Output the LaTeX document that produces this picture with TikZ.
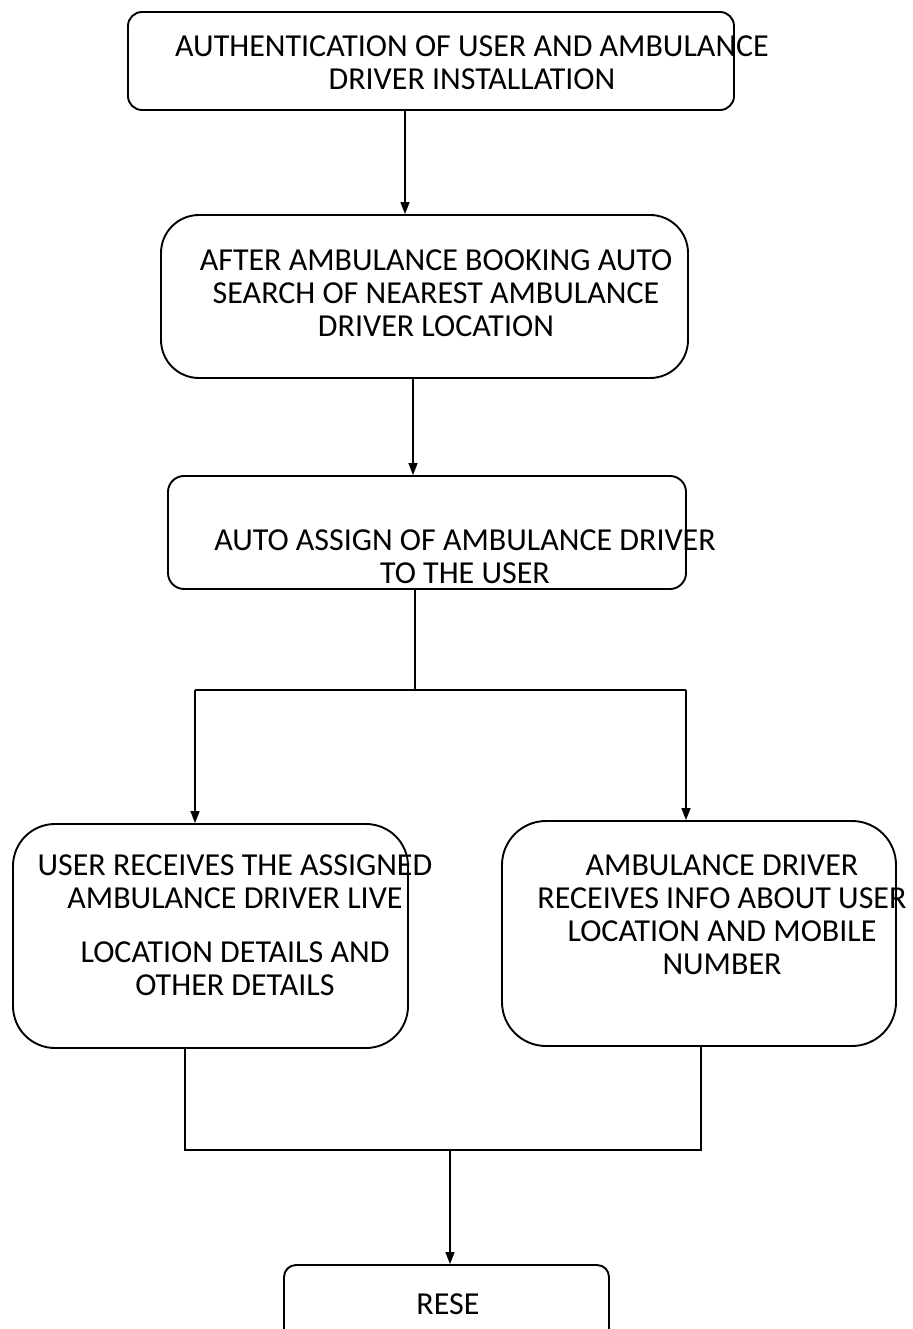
\documentclass[tikz,border=0pt]{standalone}
\usepackage{fontspec}
\setmainfont{Carlito}
\usetikzlibrary{arrows.meta}

\tikzset{
    stepbox/.style={draw, line width=1.9pt, inner sep=0pt},
    boxtext/.style={align=center, inner sep=0pt, font=\fontsize{32}{33}\selectfont},
    arr/.style={line width=1.5pt, -{Triangle[length=12pt,width=9pt]}},
    link/.style={line width=1.7pt}
}

\begin{document}
\begin{tikzpicture}[x=1pt,y=-1pt]

            % page
            \useasboundingbox (0,0) rectangle (912,1329);

            % boxes
            \node[stepbox, rounded corners=14pt, minimum width=606pt, minimum height=98pt] (auth) at (431,61) {};
            \node[stepbox, rounded corners=38pt, minimum width=527pt, minimum height=163pt] (search) at (424.5,296.5) {};
            \node[stepbox, rounded corners=16pt, minimum width=518pt, minimum height=113pt] (assign) at (427,532.5) {};
            \node[stepbox, rounded corners=42pt, minimum width=395pt, minimum height=224pt] (user) at (210.5,936) {};
            \node[stepbox, rounded corners=44pt, minimum width=394pt, minimum height=225pt] (driver) at (699,933.5) {};
            \node[stepbox, rounded corners=12pt, minimum width=325pt, minimum height=100pt] (rese) at (446.5,1315) {};

            % texts
            \node[boxtext] (authtxt) at (472,63) {AUTHENTICATION OF USER AND AMBULANCE\\DRIVER INSTALLATION};
            \node[boxtext] (searchtxt) at (436,293) {AFTER AMBULANCE BOOKING AUTO\\SEARCH OF NEAREST AMBULANCE\\DRIVER LOCATION};
            \node[boxtext] (assigntxt) at (465,557) {AUTO ASSIGN OF AMBULANCE DRIVER\\TO THE USER};
            \node[boxtext] (usertxt) at (235,925) {USER RECEIVES THE ASSIGNED\\AMBULANCE DRIVER LIVE\\[21pt]LOCATION DETAILS AND\\OTHER DETAILS};
            \node[boxtext] (drivertxt) at (722,915) {AMBULANCE DRIVER\\RECEIVES INFO ABOUT USER\\LOCATION AND MOBILE\\NUMBER};
            \node[boxtext] (resetxt) at (448,1304) {RESE};

            % top chain
            \draw[arr] (405,0 |- auth.south) -- (405,0 |- search.north);
            \draw[arr] (413,0 |- search.south) -- (413,0 |- assign.north);

            % split
            \coordinate (splitl) at (195,690);
            \coordinate (splitr) at (686,690);
            \draw[link] (415,0 |- assign.south) -- (415,690);
            \draw[link] (splitl) -- (splitr);
            \draw[arr] (splitl) -- (splitl |- user.north);
            \draw[arr] (splitr) -- (splitr |- driver.north);

            % join
            \coordinate (joinl) at (185,1150);
            \coordinate (joinr) at (701,1150);
            \draw[link] (joinl |- user.south) -- (joinl) -- (joinr) -- (joinr |- driver.south);
            \draw[arr] (450,1150) -- (450,0 |- rese.north);
            \end{tikzpicture}
\end{document}
